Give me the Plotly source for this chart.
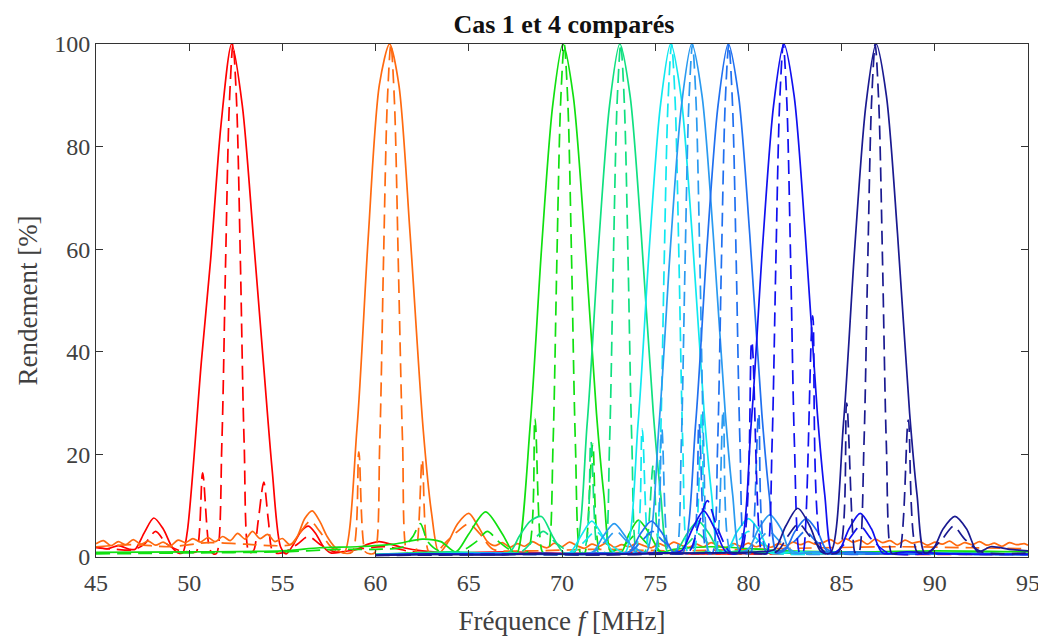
import plotly.graph_objects as go

# ---------------- data ----------------
# Red channel (cas 1 = solid, cas 4 = dashed)
red_solid_f = [45.0, 45.6, 46.2, 46.8, 47.1, 47.6, 48.1, 48.6, 49.1, 49.4, 49.65, 49.9, 50.65, 51.15, 51.7, 52.28,
               52.85, 53.45, 54.0, 54.45, 54.9, 55.2, 55.6, 56.0, 56.4, 56.8, 57.2, 57.6, 58.2, 59.0, 59.6, 60.2,
               60.8, 61.5, 62.5, 64, 67, 70, 74, 78, 82, 86, 90, 95]
red_solid_y = [2.0, 1.6, 2.2, 1.5, 1.5, 4.8, 7.6, 5.5, 1.8, 0.8, 0.8, 5.0, 38, 58, 84, 100,
               88, 62, 37, 17, 2.0, 0.6, 2.5, 5.0, 6.0, 4.5, 2.0, 0.8, 1.0, 1.5, 2.5, 3.0,
               2.5, 1.8, 1.2, 0.8, 1.0, 0.7, 0.9, 0.6, 0.8, 0.6, 0.7, 0.6]
red_dash_f = [45.0, 46.0, 47.0, 47.6, 48.2, 48.8, 49.5, 50.1, 50.38, 50.72, 51.1, 51.3, 51.48, 51.75, 51.95, 52.15,
              52.35, 52.55, 52.75, 52.95, 53.22, 53.45, 53.7, 54.0, 54.25, 54.5, 55.0, 55.8, 56.4, 57.0, 57.8,
              59, 60.5, 62, 65, 70, 75, 80, 85, 90, 95]
red_dash_y = [1.8, 1.5, 1.4, 2.5, 5.0, 2.5, 1.2, 1.0, 1.0, 16.4, 1.5, 0.6, 0.8, 22, 57, 88,
              100, 88, 57, 22, 0.8, 1.2, 7, 14.6, 7, 1.0, 0.8, 2.5, 4.0, 2.5, 1.0,
              1.5, 2.0, 1.0, 0.7, 0.6, 0.7, 0.6, 0.6, 0.5, 0.5]

# Orange channel
orange_solid_f = [45.0, 45.4, 45.8, 46.2, 46.6, 47.0, 47.4, 47.8, 48.2, 48.6, 49.0, 49.4, 49.8, 50.2, 50.6, 51.0,
                  51.4, 51.8, 52.2, 52.6, 53.0, 53.4, 53.8, 54.2, 54.6, 55.0, 55.4,
                  55.8, 56.2, 56.6, 57.0, 57.4, 57.8, 58.3, 59.0, 59.6, 60.2, 60.75, 61.25, 61.85, 62.55, 63.0,
                  63.4, 63.9, 64.4, 65.0, 65.5, 66.0,
                  66.4, 66.8, 67.2, 67.6, 68.0, 68.4, 68.8, 69.2, 69.6, 70.0, 70.4, 70.8, 71.2, 71.6, 72.0, 72.4,
                  72.8, 73.2, 73.6, 74.0, 74.4, 74.8, 75.2, 75.6, 76.0, 76.4, 76.8, 77.2, 77.6, 78.0, 78.4, 78.8,
                  79.2, 79.6, 80.0, 80.4, 80.8, 81.2, 81.6, 82.0, 82.4, 82.8, 83.2, 83.6,
                  84.0, 84.4, 84.8, 85.2, 85.6, 86.0, 86.4, 86.8, 87.2, 87.6, 88.0, 88.4, 88.8, 89.2, 89.6, 90.0,
                  90.4, 90.8, 91.2, 91.6, 92.0, 92.4, 92.8, 93.2, 93.6, 94.0, 94.4, 94.8, 95.0]
orange_solid_y = [2.6, 3.2, 2.2, 3.0, 2.4, 3.4, 2.5, 3.1, 2.3, 2.9, 2.2, 3.3, 2.8, 3.6, 2.9, 3.8,
                  3.0, 4.0, 3.2, 4.6, 3.5, 5.0, 3.6, 4.4, 3.0, 3.6, 2.4,
                  4.0, 7.5, 9.0, 7.0, 4.0, 2.0, 0.8, 25, 62, 92, 100, 92, 63, 25, 8.6,
                  0.8, 3.0, 6.5, 8.5, 6.0, 3.0,
                  2.2, 2.8, 1.9, 2.6, 2.1, 3.0, 2.3, 1.8, 2.7, 2.0, 2.9, 2.2, 1.7, 2.5, 2.1, 2.8,
                  1.9, 2.4, 2.0, 2.7, 2.2, 1.8, 2.6, 2.1, 2.9, 2.3, 1.9, 2.5, 2.0, 2.8, 2.2, 1.8,
                  2.6, 2.1, 2.7, 2.0, 2.4, 1.9, 2.6, 2.2, 2.9, 2.4, 3.0, 2.5,
                  2.8, 3.4, 2.6, 3.6, 2.9, 3.3, 2.5, 3.5, 2.8, 3.2, 2.4, 3.3, 2.7, 3.0, 2.3, 2.9,
                  2.5, 3.1, 2.2, 2.8, 2.4, 3.0, 2.3, 2.7, 2.1, 2.8, 2.4, 2.6, 2.3]
orange_dash_f = [45, 47, 49, 51, 53, 54.5, 55.5, 56.0, 56.5, 57.0, 57.6, 58.2, 58.75, 59.1, 59.45, 59.7, 59.95,
                 60.22, 60.42, 60.62, 60.82, 61.02, 61.22, 61.45, 61.7, 61.95, 62.15, 62.5, 62.85, 63.2, 63.8,
                 64.4, 65.0, 65.6, 66.3, 68, 72, 76, 80, 84, 88, 92, 95]
orange_dash_y = [2.0, 2.4, 2.0, 2.8, 2.5, 2.2, 2.5, 5.0, 7.0, 5.0, 2.0, 0.8, 1.0, 20.5, 1.0, 0.6, 0.8,
                 22, 57, 88, 100, 88, 57, 22, 0.8, 0.6, 1.0, 19, 1.0, 0.8, 3.0,
                 5.0, 6.5, 4.5, 1.5, 1.2, 1.5, 1.2, 1.5, 1.8, 2.0, 1.8, 1.6]

# Green channel
green_solid_f = [45, 50, 55, 57, 59, 61, 62.5, 63.5, 64.3, 65.0, 65.9, 66.8, 67.4, 67.6, 68.3, 68.9, 69.5, 70.05,
                 70.6, 71.2, 71.85, 72.25, 72.65, 73.2, 73.6, 74.1, 74.7, 75.3, 76, 78, 82, 86, 90, 95]
green_solid_y = [0.9, 1.0, 1.2, 1.8, 2.0, 2.5, 3.5, 3.0, 1.0, 4.5, 8.8, 4.5, 0.8, 0.8, 26, 60, 88, 100,
                 90, 63, 28, 12, 0.8, 1.0, 4.5, 7.2, 4.5, 1.0, 1.5, 2.0, 1.2, 1.0, 1.2, 1.0]
green_dash_f = [45, 50, 55, 58, 60, 61.5, 62.0, 62.4, 62.8, 63.4, 64.5, 65.4, 66.0, 66.6, 67.5, 68.15, 68.55, 68.92,
                69.1, 69.25, 69.52, 69.72, 69.92, 70.12, 70.32, 70.52, 70.72, 70.99, 71.15, 71.25, 71.65, 72.05,
                72.5, 73.4, 74.0, 74.6, 75.5, 78, 82, 86, 90, 95]
green_dash_y = [0.6, 0.8, 1.0, 1.5, 1.5, 2.0, 4.0, 6.5, 3.0, 1.2, 1.0, 3.0, 5.0, 3.0, 0.8, 1.0, 27, 1.2,
                0.6, 0.8, 22, 57, 88, 100, 88, 57, 22, 0.8, 0.6, 1.0, 22, 1.0,
                0.8, 2.5, 4.5, 2.5, 0.8, 1.0, 0.8, 0.9, 0.7, 0.6]

# Spring-green channel
spring_solid_f = [60, 62, 64, 66, 67.2, 67.7, 68.3, 68.9, 69.5, 70.1, 70.65, 71.35, 71.95, 72.55, 73.1, 73.65,
                  74.25, 74.9, 75.3, 75.7, 76.2, 76.7, 77.3, 77.9, 78.5, 79.5, 82, 85, 88, 91, 95]
spring_solid_y = [0.5, 0.8, 1.0, 0.8, 1.0, 4.0, 7.0, 7.9, 4.0, 0.8, 0.8, 26, 60, 88, 100, 90,
                  63, 28, 12, 0.8, 1.5, 4.5, 7.0, 4.5, 1.0, 1.2, 0.8, 1.0, 0.7, 0.8, 0.6]
spring_dash_f = [60, 63, 66, 67.8, 68.4, 69.0, 69.6, 70.5, 71.15, 71.55, 71.92, 72.1, 72.28, 72.55, 72.75, 72.95,
                 73.15, 73.35, 73.55, 73.75, 74.02, 74.2, 74.45, 74.9, 75.3, 75.8, 76.7, 77.3, 77.9, 78.8, 81,
                 85, 90, 95]
spring_dash_y = [0.5, 0.8, 0.7, 1.0, 3.0, 5.0, 3.0, 0.8, 1.0, 22.5, 1.0, 0.6, 0.8, 22, 57, 88,
                 100, 88, 57, 22, 0.8, 0.6, 1.0, 18, 1.0, 0.8, 2.5, 4.5, 2.5, 0.8, 1.0,
                 0.7, 0.8, 0.6]

# Cyan channel
cyan_solid_f = [60, 63, 66, 69, 70.4, 71.0, 71.6, 72.2, 72.8, 73.38, 74.08, 74.68, 75.28, 75.83, 76.38, 76.98,
                77.63, 78.03, 78.43, 78.9, 79.4, 80.0, 80.6, 81.2, 82.5, 85, 88, 91, 95]
cyan_solid_y = [0.4, 0.6, 0.8, 0.6, 0.8, 4.0, 7.0, 4.0, 0.8, 0.8, 26, 60, 88, 100, 90, 63,
                28, 12, 0.8, 1.5, 5.0, 7.5, 5.0, 0.8, 1.0, 0.7, 0.8, 0.6, 0.5]
cyan_dash_f = [60, 64, 68, 70.6, 71.2, 71.8, 72.4, 73.3, 73.9, 74.3, 74.68, 74.85, 75.01, 75.28, 75.48, 75.68,
               75.88, 76.08, 76.28, 76.48, 76.75, 76.93, 77.1, 77.5, 77.9, 78.5, 79.4, 80.0, 80.6, 81.5, 84,
               88, 92, 95]
cyan_dash_y = [0.4, 0.7, 0.6, 1.0, 3.0, 5.0, 3.0, 0.8, 1.0, 25, 1.0, 0.6, 0.8, 22, 57, 88,
               100, 88, 57, 22, 0.8, 0.6, 1.0, 28, 1.0, 0.8, 3.0, 5.0, 3.0, 0.8, 0.6,
               0.8, 0.6, 0.5]

# Azure channel
azure_solid_f = [60, 63, 66, 69, 71.6, 72.2, 72.8, 73.4, 74.0, 74.51, 75.21, 75.81, 76.41, 76.96, 77.51, 78.11,
                 78.76, 79.16, 79.56, 80.0, 80.55, 81.15, 81.75, 82.3, 83.5, 86, 89, 92, 95]
azure_solid_y = [0.4, 0.6, 0.5, 0.7, 0.8, 4.0, 6.5, 4.0, 0.8, 0.8, 26, 60, 88, 100, 90, 63,
                 28, 12, 0.8, 1.5, 5.5, 8.2, 5.5, 0.8, 1.0, 0.6, 0.7, 0.5, 0.5]
azure_dash_f = [60, 64, 68, 71.7, 72.3, 72.9, 73.5, 74.4, 74.95, 75.35, 75.73, 75.95, 76.13, 76.4, 76.6, 76.8,
                77.0, 77.2, 77.4, 77.6, 77.87, 78.05, 78.25, 78.65, 79.05, 79.6, 80.5, 81.1, 81.7, 82.6, 85,
                89, 92, 95]
azure_dash_y = [0.4, 0.6, 0.5, 1.0, 3.0, 5.0, 3.0, 0.8, 1.0, 25, 1.0, 0.6, 0.8, 22, 57, 88,
                100, 88, 57, 22, 0.8, 0.6, 1.0, 28.6, 1.0, 0.8, 3.0, 5.0, 3.0, 0.8, 0.6,
                0.7, 0.5, 0.5]

# Light-blue channel
lblue_solid_f = [60, 63, 66, 69, 72, 73.6, 74.2, 74.8, 75.4, 76.0, 76.47, 77.17, 77.77, 78.37, 78.92, 79.47,
                 80.07, 80.72, 81.12, 81.52, 82.0, 82.5, 83.1, 83.7, 84.3, 85.5, 88, 91, 95]
lblue_solid_y = [0.4, 0.5, 0.7, 0.5, 0.8, 1.0, 4.5, 7.0, 4.5, 0.8, 0.8, 26, 60, 88, 100, 90,
                 63, 28, 12, 0.8, 1.5, 5.0, 7.5, 5.0, 0.8, 1.0, 0.6, 0.7, 0.5]
lblue_dash_f = [60, 64, 68, 72, 73.65, 74.25, 74.85, 75.45, 76.4, 76.95, 77.35, 77.73, 77.9, 78.08, 78.35, 78.55,
                78.75, 78.95, 79.15, 79.35, 79.55, 79.82, 80.0, 80.15, 80.55, 80.95, 81.5, 82.45, 83.05, 83.65,
                84.6, 87, 91, 95]
lblue_dash_y = [0.4, 0.5, 0.6, 0.5, 1.0, 3.0, 5.0, 3.0, 0.8, 1.0, 26, 1.0, 0.6, 0.8, 22, 57,
                88, 100, 88, 57, 22, 0.8, 0.6, 1.0, 28, 1.0, 0.8, 3.0, 5.0, 3.0,
                0.8, 0.6, 0.6, 0.5]

# Blue channel
blue_solid_f = [60, 63, 66, 69, 72, 75.5, 76.4, 77.0, 77.6, 78.2, 78.8, 79.45, 80.15, 80.75, 81.35, 81.9, 82.45,
                83.05, 83.7, 84.1, 84.5, 84.9, 85.4, 86.0, 86.6, 87.2, 88.5, 91, 95]
blue_solid_y = [0.4, 0.6, 0.5, 0.7, 0.6, 0.8, 1.2, 5.5, 9.0, 5.5, 1.0, 0.8, 26, 60, 88, 100, 90,
                63, 28, 12, 0.8, 1.5, 5.5, 8.5, 5.5, 0.8, 1.0, 0.6, 0.5]
blue_dash_f = [60, 64, 68, 72, 75.5, 76.8, 77.3, 77.8, 78.3, 79.0, 79.6, 80.18, 80.7, 80.85, 81.0, 81.27, 81.47,
               81.67, 81.87, 82.07, 82.27, 82.47, 82.74, 82.85, 82.95, 83.45, 84.0, 84.6, 85.4, 86.0, 86.6,
               87.5, 90, 95]
blue_dash_y = [0.4, 0.5, 0.6, 0.5, 0.8, 1.0, 6.0, 11, 6.0, 1.0, 1.0, 42, 1.0, 0.6, 0.8, 22, 57,
               88, 100, 88, 57, 22, 0.8, 0.6, 1.0, 47, 1.0, 0.8, 3.5, 6.0, 3.5,
               0.8, 0.6, 0.5]

# Navy channel
navy_solid_f = [60, 63, 66, 69, 72, 75, 78, 80.5, 81.4, 82.0, 82.65, 83.3, 83.9, 84.4, 85.1, 85.7, 86.3, 86.85,
                87.4, 88.0, 88.65, 89.05, 89.45, 89.9, 90.45, 91.08, 91.7, 92.3, 93.0, 94.0, 95]
navy_solid_y = [0.3, 0.5, 0.4, 0.6, 0.5, 0.7, 0.8, 1.0, 1.5, 6.0, 9.5, 6.0, 1.0, 0.8, 26, 60, 88, 100,
                90, 63, 28, 12, 0.8, 1.5, 5.5, 7.9, 5.5, 1.0, 2.0, 1.5, 1.2]
navy_dash_f = [60, 64, 68, 72, 76, 79, 81.5, 82.1, 82.7, 83.3, 84.2, 84.85, 85.27, 85.7, 85.8, 85.93, 86.2, 86.4,
               86.6, 86.8, 87.0, 87.2, 87.4, 87.67, 87.85, 88.1, 88.58, 89.05, 89.6, 90.4, 91.0, 91.6, 92.5, 95]
navy_dash_y = [0.3, 0.4, 0.5, 0.4, 0.6, 0.8, 1.0, 4.0, 6.5, 4.0, 0.8, 1.0, 30, 1.0, 0.6, 0.8, 22, 57,
               88, 100, 88, 57, 22, 0.8, 0.6, 1.0, 26.7, 1.0, 0.8, 3.5, 6.0, 3.5, 1.0, 0.8]

channel_colors = ["#ff0000", "#ff6a10", "#10e010", "#10e080", "#10e8f0",
                  "#2a9af0", "#2070f0", "#1010f0", "#1a1a90"]

x_ticks = [45, 50, 55, 60, 65, 70, 75, 80, 85, 90, 95]
y_ticks = [0, 20, 40, 60, 80, 100]

title_text = "<b>Cas 1 et 4 comparés</b>"
x_label = "Fréquence <i>f</i> [MHz]"
y_label = "Rendement [%]"

# ---------------- figure ----------------
channels = [
    (red_solid_f, red_solid_y, red_dash_f, red_dash_y),
    (orange_solid_f, orange_solid_y, orange_dash_f, orange_dash_y),
    (green_solid_f, green_solid_y, green_dash_f, green_dash_y),
    (spring_solid_f, spring_solid_y, spring_dash_f, spring_dash_y),
    (cyan_solid_f, cyan_solid_y, cyan_dash_f, cyan_dash_y),
    (azure_solid_f, azure_solid_y, azure_dash_f, azure_dash_y),
    (lblue_solid_f, lblue_solid_y, lblue_dash_f, lblue_dash_y),
    (blue_solid_f, blue_solid_y, blue_dash_f, blue_dash_y),
    (navy_solid_f, navy_solid_y, navy_dash_f, navy_dash_y),
]

fig = go.Figure()
for (sf, sy, df, dy), col in zip(channels, channel_colors):
    fig.add_trace(go.Scatter(x=sf, y=sy, mode="lines", showlegend=False, hoverinfo="skip",
                             line=dict(color=col, width=1.7, shape="spline", smoothing=0.8)))
    fig.add_trace(go.Scatter(x=df, y=dy, mode="lines", showlegend=False, hoverinfo="skip",
                             line=dict(color=col, width=1.7, shape="spline", smoothing=0.8, dash="14px,7px")))

serif = "Liberation Serif, Times New Roman, serif"
# the page body adds an 8 px offset, so the figure is 8 px smaller and margins are shifted
fig.update_layout(
    width=1038, height=629,
    margin=dict(l=88, r=18, t=36, b=80),
    paper_bgcolor="white", plot_bgcolor="white",
    font=dict(family=serif, color="#404040", size=24),
    title=dict(text=title_text, x=0.5356, xanchor="center", y=0.975, yanchor="middle",
               font=dict(family=serif, size=26, color="#111111")),
)
fig.update_xaxes(range=[45, 95], tickvals=x_ticks, ticks="inside", ticklen=7, tickcolor="#333333",
                 showline=True, linecolor="#333333", linewidth=1, mirror="ticks",
                 showgrid=False, zeroline=False, tickfont=dict(size=24, color="#404040"),
                 ticklabelstandoff=4, automargin=False,
                 title=dict(text=x_label, font=dict(size=27, color="#404040"), standoff=16))
fig.update_yaxes(range=[0, 100], tickvals=y_ticks, ticks="inside", ticklen=7, tickcolor="#333333",
                 showline=True, linecolor="#333333", linewidth=1, mirror="ticks",
                 showgrid=False, zeroline=False, tickfont=dict(size=24, color="#404040"),
                 automargin=False,
                 title=dict(text=y_label, font=dict(size=27, color="#404040"), standoff=8))

fig.write_html("out.html")
